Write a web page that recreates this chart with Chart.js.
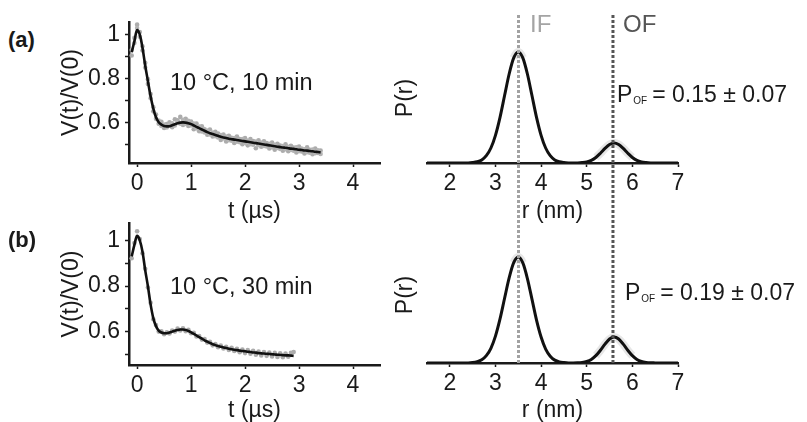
<!DOCTYPE html>
<html>
<head>
<meta charset="utf-8">
<script src="https://cdn.jsdelivr.net/npm/chart.js@4.4.1/dist/chart.umd.min.js"></script>
<style>
body { margin: 0; width: 807px; height: 422px; overflow: hidden; background: #fff; position: relative;
       font-family: 'Liberation Sans', Arial, sans-serif; color: #1a1a1a; }
canvas { position: absolute; }
.lbl { position: absolute; white-space: nowrap; line-height: 1; }
.lbl sub { font-size: 10px; vertical-align: -2px; margin-left: 1px; margin-right: 5px; }
</style>
</head>
<body>
<canvas id="decayA" width="336" height="225" style="left:54px;top:0px"></canvas>
<canvas id="decayB" width="336" height="224" style="left:54px;top:200px"></canvas>
<canvas id="distA" width="419" height="225" style="left:388px;top:0px"></canvas>
<canvas id="distB" width="419" height="224" style="left:388px;top:200px"></canvas>

<div class="lbl" style="left:8px;top:29px;font-size:22px;font-weight:bold">(a)</div>
<div class="lbl" style="left:8px;top:229px;font-size:22px;font-weight:bold">(b)</div>
<div class="lbl" style="left:170px;top:71px;font-size:23.5px">10 °C, 10 min</div>
<div class="lbl" style="left:170px;top:275px;font-size:23.5px">10 °C, 30 min</div>
<div class="lbl" style="left:530px;top:12px;font-size:24px;color:#a4a4a4">IF</div>
<div class="lbl" style="left:623px;top:12px;font-size:24px;color:#555">OF</div>
<div class="lbl" style="left:617px;top:83px;font-size:23px">P<sub>OF</sub>= 0.15 ± 0.07</div>
<div class="lbl" style="left:625px;top:281px;font-size:23px">P<sub>OF</sub>= 0.19 ± 0.07</div>

<script>
// time axis (µs), panel (a)
var tA = [-0.10,-0.05,0.00,0.05,0.10,0.15,0.20,0.25,0.30,0.35,0.40,0.45,0.50,0.55,0.60,0.65,0.70,0.75,0.80,0.85,
          0.90,0.95,1.00,1.05,1.10,1.15,1.20,1.25,1.30,1.35,1.40,1.45,1.50,1.55,1.60,1.65,1.70,1.75,1.80,1.85,
          1.90,1.95,2.00,2.05,2.10,2.15,2.20,2.25,2.30,2.35,2.40,2.45,2.50,2.55,2.60,2.65,2.70,2.75,2.80,2.85,
          2.90,2.95,3.00,3.05,3.10,3.15,3.20,3.25,3.30,3.35,3.40];
var fitA = [0.920,0.970,1.020,1.000,0.940,0.860,0.790,0.720,0.665,0.625,0.603,0.592,0.586,0.584,0.585,0.589,0.594,0.598,0.601,0.602,
            0.601,0.598,0.594,0.588,0.582,0.576,0.570,0.564,0.558,0.553,0.549,0.545,0.541,0.537,0.534,0.531,0.528,0.526,0.524,0.522,
            0.520,0.518,0.516,0.514,0.512,0.510,0.508,0.506,0.504,0.502,0.500,0.498,0.496,0.494,0.492,0.490,0.488,0.487,0.485,0.483,
            0.482,0.480,0.478,0.477,0.475,0.474,0.472,0.471,0.469,0.468,0.466];
var dataA1 = [0.905,0.985,1.045,1.012,0.928,0.872,0.776,0.731,0.652,0.638,0.596,0.605,0.577,0.595,0.603,0.580,0.616,0.611,0.627,0.590,
              0.618,0.586,0.606,0.571,0.597,0.562,0.584,0.571,0.546,0.570,0.538,0.559,0.552,0.522,0.547,0.516,0.541,0.532,0.509,0.538,
              0.527,0.503,0.531,0.498,0.526,0.517,0.485,0.521,0.492,0.516,0.508,0.484,0.511,0.478,0.505,0.497,0.474,0.503,0.471,0.496,
              0.488,0.466,0.492,0.470,0.461,0.489,0.478,0.458,0.484,0.463,0.474];
var dataA2 = [0.930,0.962,1.030,0.990,0.947,0.851,0.798,0.712,0.671,0.618,0.610,0.586,0.592,0.579,0.590,0.598,0.588,0.604,0.596,0.614,
              0.595,0.609,0.588,0.597,0.575,0.583,0.561,0.556,0.565,0.547,0.556,0.539,0.534,0.545,0.529,0.538,0.521,0.519,0.531,0.514,
              0.512,0.526,0.509,0.520,0.503,0.501,0.515,0.499,0.511,0.495,0.493,0.505,0.489,0.500,0.486,0.482,0.495,0.480,0.491,0.477,
              0.474,0.489,0.471,0.483,0.480,0.467,0.465,0.479,0.462,0.475,0.459];

// time axis (µs), panel (b)
var tB = [-0.10,-0.05,0.00,0.05,0.10,0.15,0.20,0.25,0.30,0.35,0.40,0.45,0.50,0.55,0.60,0.65,0.70,0.75,0.80,0.85,
          0.90,0.95,1.00,1.05,1.10,1.15,1.20,1.25,1.30,1.35,1.40,1.45,1.50,1.55,1.60,1.65,1.70,1.75,1.80,1.85,
          1.90,1.95,2.00,2.05,2.10,2.15,2.20,2.25,2.30,2.35,2.40,2.45,2.50,2.55,2.60,2.65,2.70,2.75,2.80,2.85,2.90];
var fitB = [0.930,0.980,1.020,1.000,0.950,0.870,0.800,0.720,0.660,0.625,0.605,0.597,0.594,0.594,0.597,0.601,0.605,0.608,0.610,0.610,
            0.608,0.604,0.598,0.591,0.584,0.577,0.570,0.563,0.557,0.551,0.546,0.542,0.538,0.535,0.532,0.529,0.526,0.524,0.522,0.520,
            0.518,0.516,0.515,0.513,0.512,0.510,0.509,0.507,0.506,0.505,0.504,0.503,0.502,0.501,0.500,0.499,0.498,0.497,0.497,0.496,0.495];
var dataB = [0.922,0.988,1.040,1.006,0.944,0.876,0.794,0.727,0.655,0.630,0.601,0.602,0.590,0.598,0.593,0.606,0.601,0.614,0.606,0.616,
             0.603,0.609,0.594,0.596,0.580,0.582,0.566,0.568,0.553,0.556,0.541,0.547,0.533,0.540,0.527,0.535,0.521,0.530,0.516,0.526,
             0.511,0.523,0.507,0.520,0.504,0.517,0.500,0.514,0.497,0.512,0.495,0.509,0.492,0.508,0.490,0.506,0.489,0.505,0.491,0.508,0.512];

// distance distributions P(r), r in nm
var rGrid = [1.5,2.4,2.5,2.6,2.7,2.8,2.9,3.0,3.1,3.2,3.3,3.4,3.5,3.6,3.7,3.8,3.9,4.0,4.1,4.2,4.3,4.4,4.5,4.6,
             4.7,4.8,4.9,5.0,5.1,5.2,5.3,5.4,5.5,5.6,5.7,5.8,5.9,6.0,6.1,6.2,6.3,6.4,6.5,6.6,7.0];
var pA = [0,0.001,0.004,0.011,0.028,0.066,0.135,0.249,0.411,0.607,0.801,0.946,1.000,0.946,0.801,0.607,0.411,0.249,0.135,0.066,0.028,0.011,0.004,0.001,
          0,0.001,0.004,0.010,0.024,0.050,0.088,0.131,0.166,0.180,0.166,0.131,0.088,0.050,0.024,0.010,0.004,0.001,0,0,0];
var pB = [0,0.001,0.004,0.012,0.030,0.069,0.139,0.254,0.416,0.611,0.803,0.947,1.000,0.944,0.797,0.602,0.405,0.245,0.131,0.064,0.027,0.010,0.004,0.001,
          0.001,0.002,0.006,0.015,0.034,0.069,0.120,0.178,0.226,0.245,0.226,0.178,0.120,0.069,0.034,0.015,0.006,0.002,0.001,0,0];

var markerR = [3.505, 5.575];          // IF, OF reference distances
var markerColors = ['#a2a2a2', '#555555'];
var yTickLabels = ['0.6', '0.8', '1'];
var ink = '#1a1a1a';

Chart.defaults.font.family = "'Liberation Sans', Arial, sans-serif";
Chart.defaults.color = ink;

function pts(xs, ys) {
  return xs.map(function(x, i) { return {x: x, y: ys[i]}; });
}

function decayChart(id, t, d1, d2, fit, yMin, yMax, padTop, xHeight) {
  var ctx = document.getElementById(id).getContext('2d');
  var sets = [
    {type: 'scatter', data: pts(t, d1), pointRadius: 2.3, pointBackgroundColor: '#acacac', pointBorderWidth: 0, order: 3},
    {type: 'line', data: pts(t, fit), borderColor: '#111', borderWidth: 2.6, pointRadius: 0, tension: 0.35, order: 1}
  ];
  if (d2) sets.push({type: 'scatter', data: pts(t, d2), pointRadius: 2.3, pointBackgroundColor: '#b4b4b4', pointBorderWidth: 0, order: 2});
  return new Chart(ctx, {
    type: 'scatter',
    data: {datasets: sets},
    options: {
      responsive: false, animation: false,
      layout: {padding: {top: padTop, right: 10, bottom: 0, left: 0}},
      plugins: {legend: {display: false}, tooltip: {enabled: false}},
      scales: {
        x: {
          type: 'linear', min: -0.15, max: 4.5,
          afterFit: function(s) { s.height = xHeight; },
          border: {color: ink, width: 2.5},
          grid: {drawOnChartArea: false, tickLength: 4, tickColor: ink, tickWidth: 1.5},
          ticks: {stepSize: 1, includeBounds: false, padding: 3, font: {size: 23}, color: ink},
          title: {display: true, text: 't (µs)', font: {size: 23}, color: ink, padding: 0}
        },
        y: {
          min: yMin, max: yMax,
          afterFit: function(s) { s.width = 75; },
          border: {color: ink, width: 2.5},
          grid: {drawOnChartArea: false, tickLength: 4, tickColor: ink, tickWidth: 1.5},
          ticks: {stepSize: 0.1, includeBounds: false, autoSkip: false, padding: 5, font: {size: 23}, color: ink,
                  callback: function(v) {
                    var s = String(+v.toFixed(1));
                    return yTickLabels.indexOf(s) >= 0 ? s : '';
                  }},
          title: {display: true, text: 'V(t)/V(0)', font: {size: 23}, color: ink, padding: {top: 4, bottom: 4}}
        }
      }
    }
  });
}

function distChart(id, p, yMax, padTop, xHeight, lineLo, lineHi) {
  var ctx = document.getElementById(id).getContext('2d');
  var sets = [
    {data: pts(rGrid, p), borderColor: '#111', borderWidth: 3, pointRadius: 0, cubicInterpolationMode: 'monotone', order: 2},
    {data: pts(rGrid, p), borderWidth: 8, pointRadius: 0, cubicInterpolationMode: 'monotone', order: 3,
     borderColor: 'rgba(0,0,0,0)',
     segment: {borderColor: function(c) {
       var x = c.p0.parsed.x;
       return ((x >= 3.4 && x < 3.6) || (x >= 5.2 && x < 6.0)) ? 'rgba(215,215,215,0.6)' : 'rgba(0,0,0,0)';
     }}}
  ];
  markerR.forEach(function(r, i) {
    sets.push({data: [{x: r, y: lineLo}, {x: r, y: lineHi}], borderColor: markerColors[i], borderWidth: 3,
               borderDash: [3, 2], borderCapStyle: 'butt', pointRadius: 0, clip: false, order: 1});
  });
  return new Chart(ctx, {
    type: 'line',
    data: {datasets: sets},
    options: {
      responsive: false, animation: false,
      layout: {padding: {top: padTop, right: 129, bottom: 0, left: 0}},
      plugins: {legend: {display: false}, tooltip: {enabled: false}},
      scales: {
        x: {
          type: 'linear', min: 1.5, max: 7,
          afterFit: function(s) { s.height = xHeight; },
          border: {color: ink, width: 2.5},
          grid: {drawOnChartArea: false, tickLength: 4, tickColor: ink, tickWidth: 1.5},
          ticks: {stepSize: 1, includeBounds: false, padding: 3, font: {size: 23}, color: ink},
          title: {display: true, text: 'r (nm)', font: {size: 23}, color: ink, padding: 0}
        },
        y: {
          min: 0, max: yMax,
          afterFit: function(s) { s.width = 39; },
          border: {display: false},
          grid: {display: false},
          ticks: {display: false},
          title: {display: true, text: 'P(r)', font: {size: 23}, color: ink, padding: {top: 4, bottom: 4}}
        }
      }
    }
  });
}

document.addEventListener('DOMContentLoaded', function() {
  decayChart('decayA', tA, dataA1, dataA2, fitA, 0.418, 1.057, 22, 62);
  decayChart('decayB', tB, dataB, null, fitB, 0.455, 1.076, 23, 59);
  distChart('distA', pA, 1.17, 33, 62, -0.45, 1.351);
  distChart('distB', pB, 1.283, 27, 61, 0, 1.415);
});
</script>
</body>
</html>
